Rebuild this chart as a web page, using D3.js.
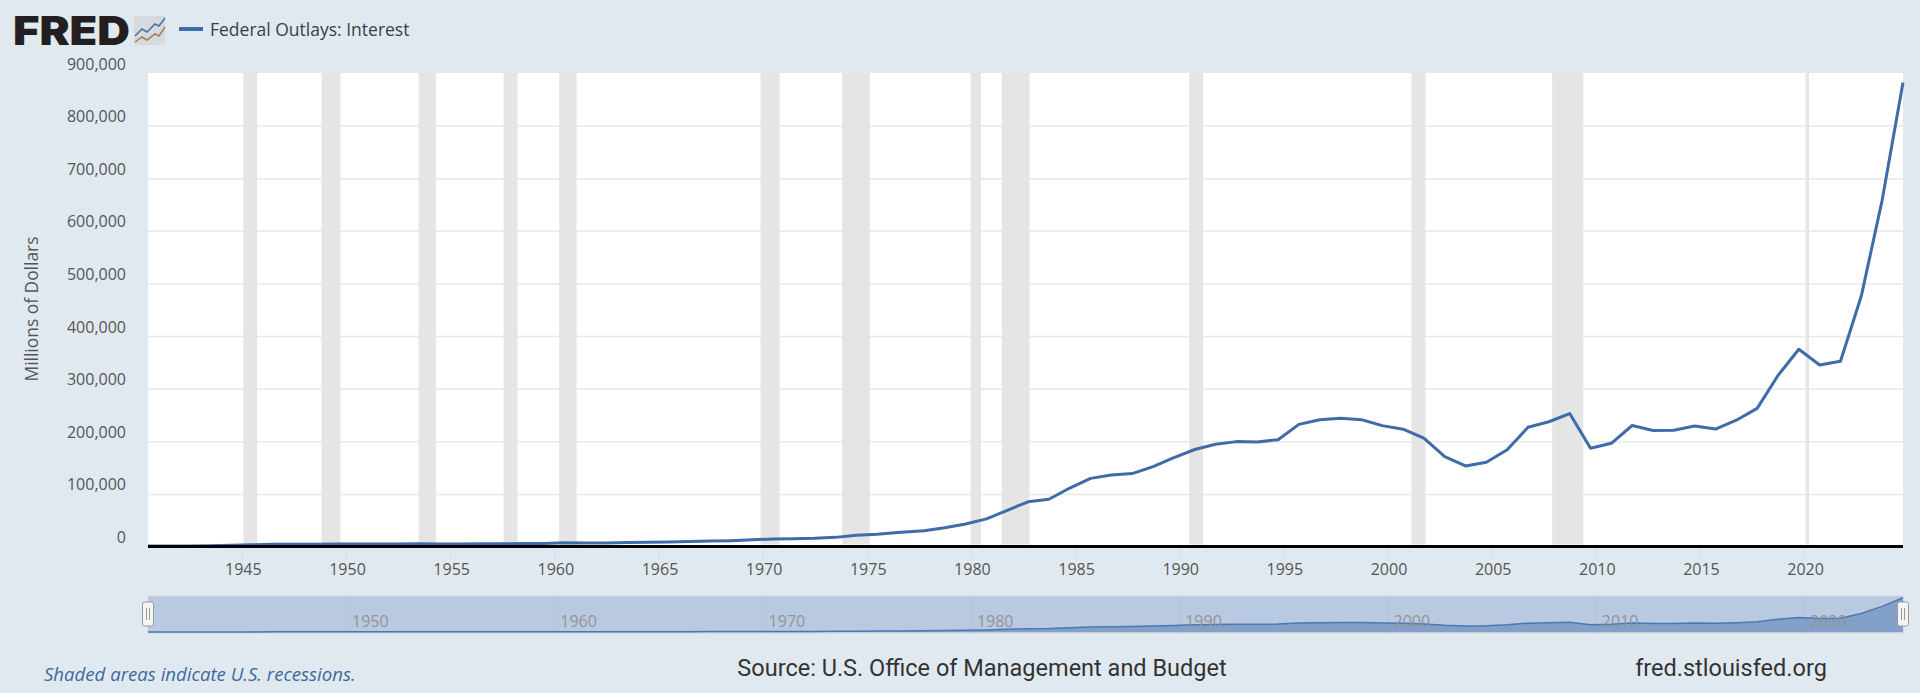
<!DOCTYPE html>
<html>
<head>
<meta charset="utf-8">
<script src="https://d3js.org/d3.v7.min.js"></script>
<style>
  html, body { margin: 0; padding: 0; background: #e1e9f0; overflow: hidden; }
  svg { display: block; }
  .label { font-family: "Open Sans", sans-serif; font-size: 16px; fill: #555; }
  .credit { font-family: Roboto, sans-serif; font-size: 23.5px; fill: #333; }
</style>
</head>
<body>
<div id="chart"></div>
<script>
// Fiscal years and federal interest outlays (millions of dollars)
var fiscalYears = [1940,1941,1942,1943,1944,1945,1946,1947,1948,1949,1950,1951,1952,1953,1954,1955,1956,1957,1958,1959,
  1960,1961,1962,1963,1964,1965,1966,1967,1968,1969,1970,1971,1972,1973,1974,1975,1976,1977,1978,1979,
  1980,1981,1982,1983,1984,1985,1986,1987,1988,1989,1990,1991,1992,1993,1994,1995,1996,1997,1998,1999,
  2000,2001,2002,2003,2004,2005,2006,2007,2008,2009,2010,2011,2012,2013,2014,2015,2016,2017,2018,2019,
  2020,2021,2022,2023,2024];
var interestOutlays = [899,943,1052,1529,2219,3112,4111,4204,4341,4523,4812,4665,4701,5156,4811,4850,5079,5354,5604,5762,
  6947,6716,6889,7740,8199,8591,9386,10268,11090,12699,14380,14841,15478,17349,21449,23244,26727,29901,35458,42633,
  52533,68766,85032,89808,111102,129478,136017,138611,151803,168981,184347,194448,199344,198713,202932,232134,241053,243984,241118,229755,
  222949,206167,170949,153073,160245,183986,226603,237109,252757,186902,196194,229962,220408,220885,228956,223181,239997,262551,325000,375000,
  345000,352000,476000,658000,882000];

var recessionStart = ["1945-02-01","1948-11-01","1953-07-01","1957-08-01","1960-04-01","1969-12-01","1973-11-01","1980-01-01","1981-07-01","1990-07-01","2001-03-01","2007-12-01","2020-02-01"];
var recessionEnd   = ["1945-10-01","1949-10-01","1954-05-01","1958-04-01","1961-02-01","1970-11-01","1975-03-01","1980-07-01","1982-11-01","1991-03-01","2001-11-01","2009-06-01","2020-04-01"];

var yTicks = [0,100000,200000,300000,400000,500000,600000,700000,800000,900000];
var xTickYears = [1945,1950,1955,1960,1965,1970,1975,1980,1985,1990,1995,2000,2005,2010,2015,2020];
var navTickYears = [1950,1960,1970,1980,1990,2000,2010,2020];

var svgWidth = 1920;
var svgHeight = 693;

var margin = { top: 73, right: 17, left: 148 };
var baseline = 546.5;
var navTop = 596, navBottom = 633;

var parseDay = d3.utcParse("%Y-%m-%d");

// Fiscal years ended June 30 up to 1976 and September 30 after that
var fyEnd = y => parseDay(y + (y <= 1976 ? "-06-30" : "-09-30"));
var janFirst = y => parseDay(y + "-01-01");

var data = fiscalYears.map((y, i) => ({ date: fyEnd(y), value: interestOutlays[i] }));

var svg = d3.select("#chart")
  .append("svg")
  .attr("width", svgWidth)
  .attr("height", svgHeight);

var xScale = d3.scaleUtc()
  .domain([data[0].date, data[data.length - 1].date])
  .range([margin.left, svgWidth - margin.right]);

var yScale = d3.scaleLinear()
  .domain([0, 900000])
  .range([baseline, margin.top]);

var navY = d3.scaleLinear()
  .domain([0, 900000])
  .range([navBottom - 1, navTop + 1]);

// Plot background
svg.append("rect")
  .attr("x", margin.left)
  .attr("y", margin.top)
  .attr("width", svgWidth - margin.right - margin.left)
  .attr("height", baseline - margin.top)
  .attr("fill", "#fff");

// Horizontal grid and y labels
var leftAxis = d3.axisLeft(yScale)
  .tickValues(yTicks)
  .tickFormat(d3.format(","))
  .tickSize(0)
  .tickPadding(22);

var yGroup = svg.append("g")
  .attr("transform", `translate(${margin.left}, 0)`)
  .call(leftAxis);
yGroup.select(".domain").remove();
yGroup.selectAll("text")
  .attr("class", "label")
  .attr("dy", "-0.25em");
yGroup.selectAll(".tick")
  .filter(d => d > 0 && d < 900000)
  .append("line")
  .attr("x1", 0)
  .attr("x2", svgWidth - margin.right - margin.left)
  .attr("stroke", "#e8e8e8")
  .attr("stroke-width", 1.5);

// Recession bands
svg.append("g").selectAll("rect")
  .data(recessionStart)
  .join("rect")
  .attr("x", d => xScale(parseDay(d)) - 0.3)
  .attr("y", margin.top)
  .attr("width", (d, i) => xScale(parseDay(recessionEnd[i])) - xScale(parseDay(d)))
  .attr("height", baseline - margin.top - 2)
  .attr("fill", "#e5e5e5");

// Bottom axis
var bottomAxis = d3.axisBottom(xScale)
  .tickValues(xTickYears.map(janFirst))
  .tickFormat(d3.utcFormat("%Y"))
  .tickSize(12)
  .tickPadding(5);

var xGroup = svg.append("g")
  .attr("transform", `translate(0, ${baseline})`)
  .call(bottomAxis);
xGroup.select(".domain").remove();
xGroup.selectAll("line").attr("stroke", "#d2dbe8");
xGroup.selectAll("text")
  .attr("class", "label")
  .attr("dx", 1);

// Series
var line = d3.line()
  .x(d => xScale(d.date))
  .y(d => yScale(d.value));

svg.append("path")
  .datum(data)
  .attr("d", line)
  .attr("fill", "none")
  .attr("stroke", "#3d6ca8")
  .attr("stroke-width", 3)
  .attr("stroke-linejoin", "round");

svg.append("line")
  .attr("x1", margin.left)
  .attr("x2", svgWidth - margin.right)
  .attr("y1", baseline)
  .attr("y2", baseline)
  .attr("stroke", "#000")
  .attr("stroke-width", 3);

svg.append("text")
  .attr("class", "label")
  .attr("transform", "translate(38, 309) rotate(-90)")
  .attr("text-anchor", "middle")
  .style("font-size", "17.4px")
  .text("Millions of Dollars");

// Navigator
svg.append("rect")
  .attr("x", margin.left)
  .attr("y", navTop)
  .attr("width", svgWidth - margin.right - margin.left)
  .attr("height", navBottom - navTop)
  .attr("fill", "#b9c9e2")
  .attr("stroke", "#ccd3dc");

var navTicks = svg.append("g").selectAll("g")
  .data(navTickYears)
  .join("g")
  .attr("transform", d => `translate(${xScale(janFirst(d))}, 0)`);

navTicks.append("line")
  .attr("y1", navTop)
  .attr("y2", navBottom)
  .attr("stroke", "#b2c3dd");

var navArea = d3.area()
  .x(d => xScale(d.date))
  .y0(navBottom - 1)
  .y1(d => navY(d.value));

svg.append("path")
  .datum(data)
  .attr("d", navArea)
  .attr("fill", "#82a0c8");

svg.append("path")
  .datum(data)
  .attr("d", line.y(d => navY(d.value)))
  .attr("fill", "none")
  .attr("stroke", "#4a78b2")
  .attr("stroke-width", 1.5);

svg.append("g").selectAll("text")
  .data(navTickYears)
  .join("text")
  .attr("x", d => xScale(janFirst(d)) + 6)
  .attr("y", navBottom - 6)
  .attr("font-family", "Open Sans, sans-serif")
  .attr("font-size", "16px")
  .attr("fill", "#949494")
  .text(d => d);

// Navigator handles
svg.append("g").selectAll("g")
  .data(xScale.domain())
  .join("g")
  .attr("transform", d => `translate(${xScale(d)}, 602)`)
  .each(function() {
    var h = d3.select(this);
    h.append("rect")
      .attr("x", -5.5).attr("y", 0).attr("width", 11).attr("height", 24)
      .attr("rx", 2)
      .attr("fill", "#f4f4f4").attr("stroke", "#999").attr("stroke-width", 1);
    h.append("line").attr("x1", -1.5).attr("x2", -1.5).attr("y1", 6).attr("y2", 18).attr("stroke", "#999");
    h.append("line").attr("x1", 1.5).attr("x2", 1.5).attr("y1", 6).attr("y2", 18).attr("stroke", "#999");
  });

// Logo
svg.append("text")
  .attr("x", 13)
  .attr("y", 45)
  .attr("font-family", "Inter, sans-serif")
  .attr("font-weight", 900)
  .attr("font-size", "40px")
  .attr("textLength", 117)
  .attr("lengthAdjust", "spacingAndGlyphs")
  .attr("fill", "#231f20")
  .text("FRED");

var logoIcon = svg.append("g").attr("transform", "translate(134, 16)");
logoIcon.append("rect")
  .attr("width", 31).attr("height", 29).attr("rx", 3)
  .attr("fill", "#d6d9dd");
logoIcon.append("polyline")
  .attr("points", "1,20 8,13 13,16 21,8 25,10 31,2")
  .attr("fill", "none").attr("stroke", "#4572a7").attr("stroke-width", 1.5);
logoIcon.append("polyline")
  .attr("points", "1,26 8,21 13,24 21,18 25,20 31,11")
  .attr("fill", "none").attr("stroke", "#a5814f").attr("stroke-width", 1.5);

// Legend
svg.append("line")
  .attr("x1", 179).attr("x2", 203)
  .attr("y1", 29).attr("y2", 29)
  .attr("stroke", "#3d6ca8")
  .attr("stroke-width", 4);

svg.append("text")
  .attr("x", 210)
  .attr("y", 36)
  .attr("font-family", "Open Sans, sans-serif")
  .attr("font-size", "17.5px")
  .attr("font-weight", 500)
  .attr("fill", "#3a3f45")
  .text("Federal Outlays: Interest");

// Footer
svg.append("text")
  .attr("x", 44)
  .attr("y", 681)
  .attr("font-family", "Open Sans, sans-serif")
  .attr("font-size", "18.6px")
  .attr("font-style", "italic")
  .attr("fill", "#3d6a9e")
  .text("Shaded areas indicate U.S. recessions.");

svg.append("text")
  .attr("class", "credit")
  .attr("x", 982)
  .attr("y", 676)
  .attr("text-anchor", "middle")
  .text("Source: U.S. Office of Management and Budget");

svg.append("text")
  .attr("class", "credit")
  .attr("x", 1731)
  .attr("y", 676)
  .attr("text-anchor", "middle")
  .text("fred.stlouisfed.org");
</script>
</body>
</html>
